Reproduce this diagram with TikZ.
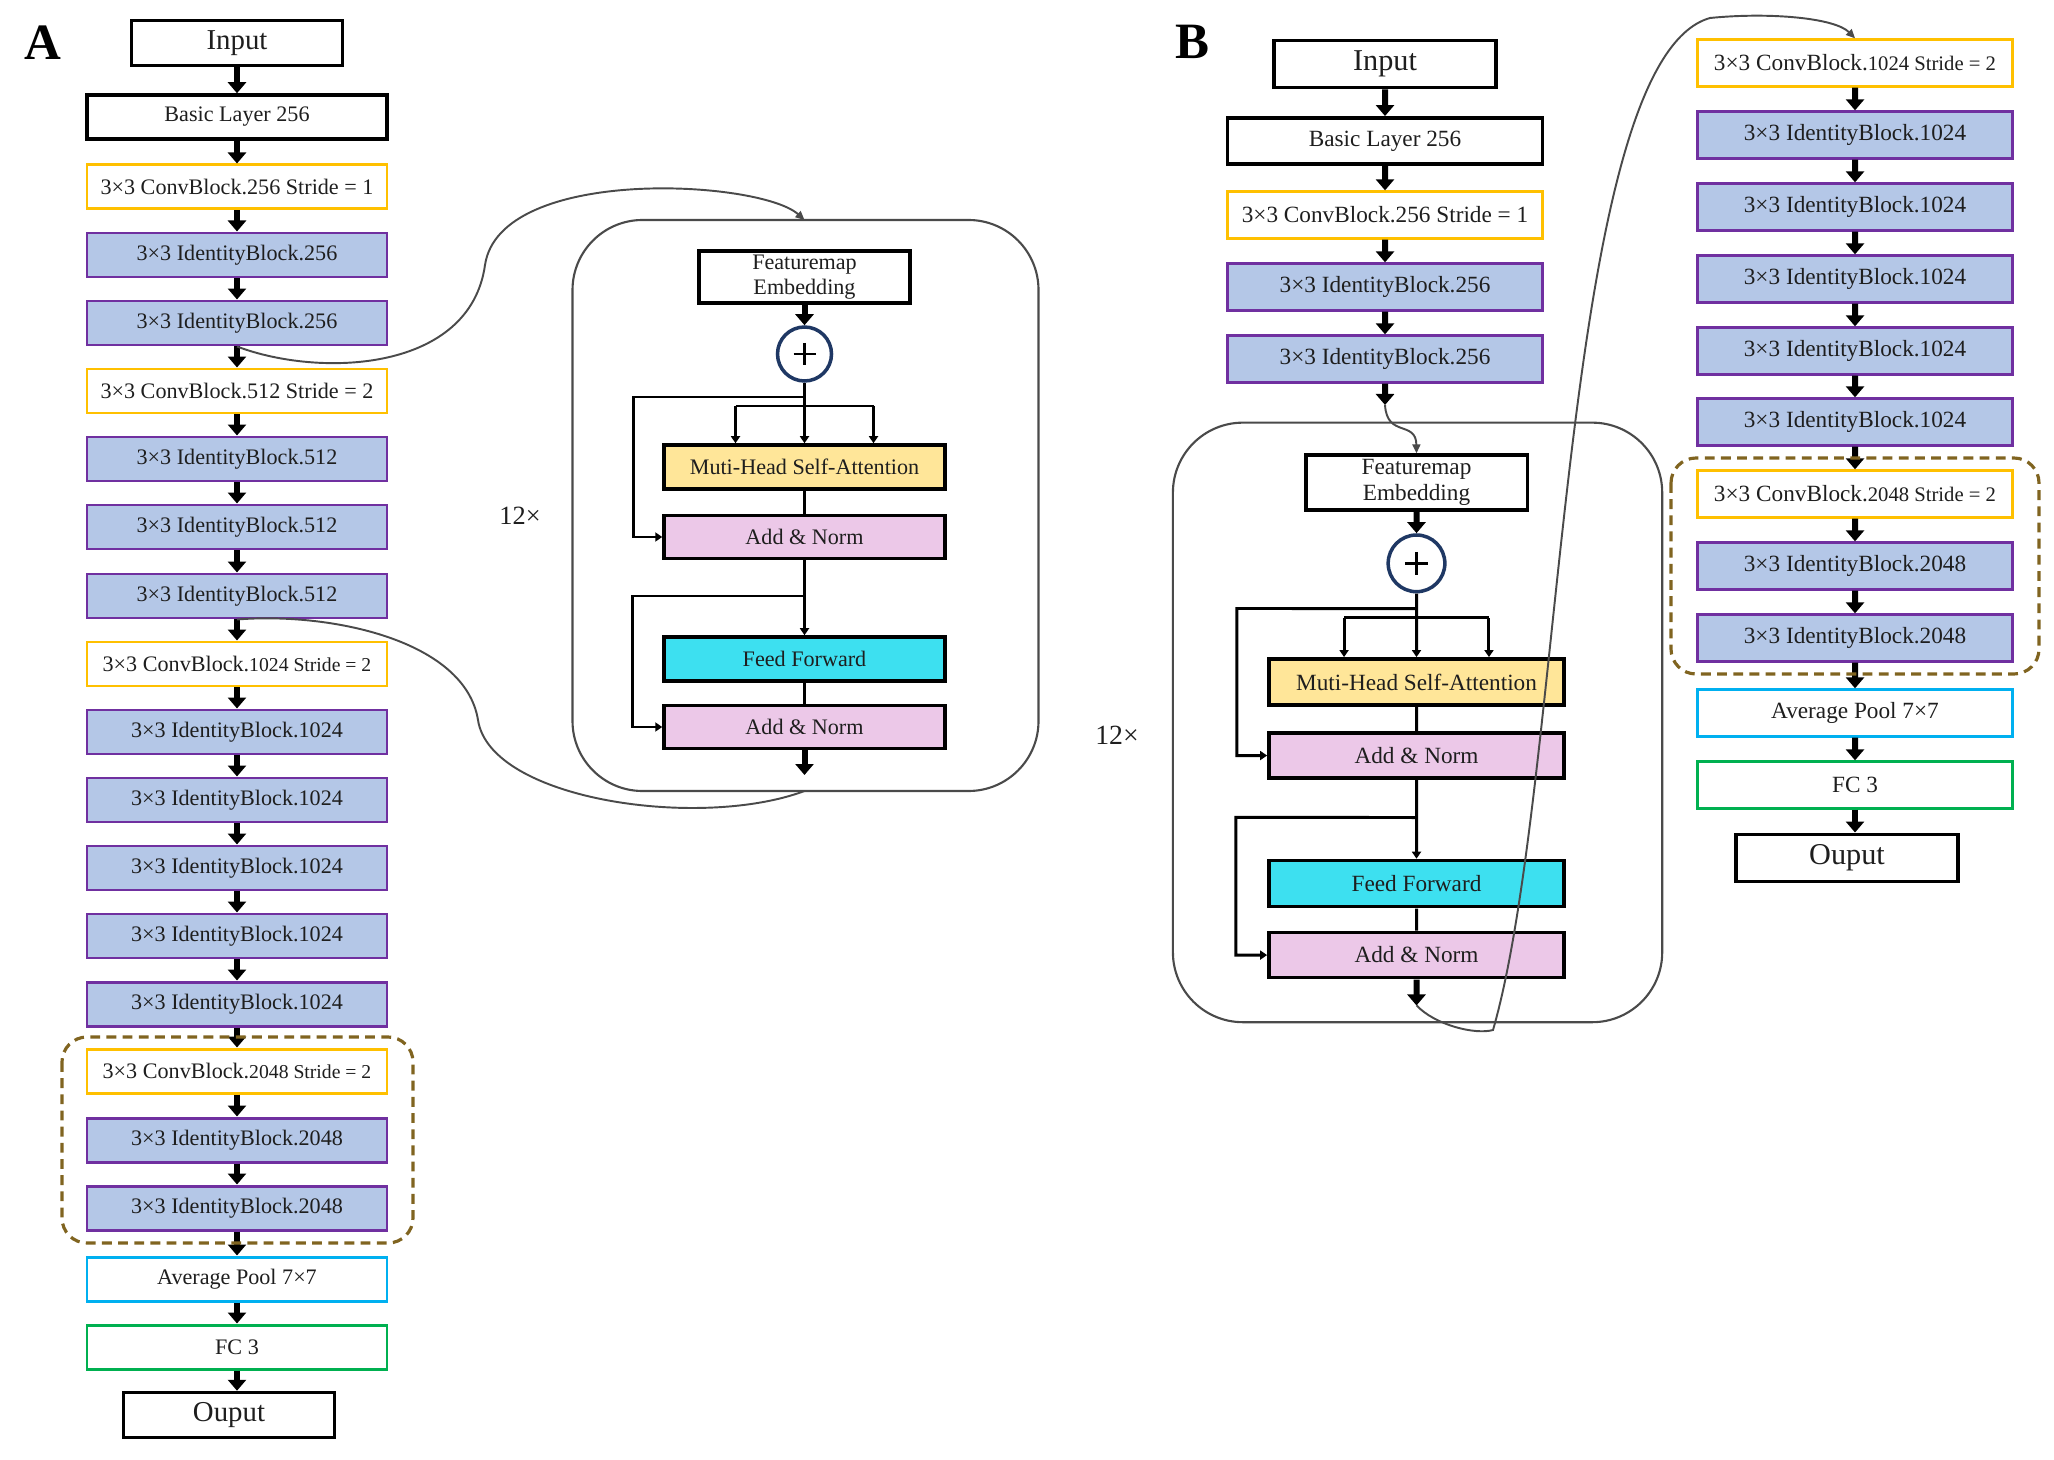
\documentclass[tikz,border=0pt]{standalone}
\usepackage{fontspec}
\setmainfont{Liberation Serif}
\usepackage{tikz}
\usetikzlibrary{arrows.meta}

\definecolor{ink}{HTML}{1E1E1E}
\definecolor{convc}{RGB}{255,192,0}
\definecolor{idfill}{RGB}{180,199,231}
\definecolor{idline}{RGB}{112,48,160}
\definecolor{poolc}{RGB}{0,176,240}
\definecolor{fcc}{RGB}{0,176,80}
\definecolor{dashc}{RGB}{128,100,32}
\definecolor{attnc}{RGB}{255,230,153}
\definecolor{normc}{RGB}{236,200,232}
\definecolor{ffc}{RGB}{61,224,240}
\definecolor{sumc}{RGB}{31,56,100}
\definecolor{loopc}{HTML}{4A4A4A}

\newcommand{\sm}{\fontsize{5.6}{6.5}\selectfont}

% one encoder layer: #1 prefix, (#2,#3) centre of the embedding box, #4 scale
\newcommand{\encoder}[4]{%
\begin{scope}[shift={(#2,#3)}, scale=#4, transform shape]
\draw[encbox] (-232,-57) rectangle (234,514);
\coordinate (#1top) at (0,-57);
\coordinate (#1bot) at (0,514);
\node[fmblk] (#1fm) at (0,0) {Featuremap\\Embedding};
\node[sumnode] (#1add) at (0,77) {};
\draw[wire] (#1add.center) ++(-11,0) -- ++(22,0);
\draw[wire] (#1add.center) ++(0,-11) -- ++(0,22);
\node[mhsa] (#1mha) at (0,190) {Muti-Head Self-Attention};
\node[addnorm] (#1an1) at (0,260) {Add \& Norm};
\node[ffn] (#1ff) at (0,382) {Feed Forward};
\node[addnorm] (#1an2) at (0,450) {Add \& Norm};
\coordinate (#1j1) at (0,120);
\coordinate (#1j2) at (0,319);
\coordinate (#1hl) at (-69,129);
\coordinate (#1hr) at (69,129);
\coordinate (#1end) at (0,498);
\draw[fatarrow] (#1fm) -- (#1add);
\draw[wire,smalltip] (#1add) -- (#1mha);
\draw[wire] (#1hl) -- (#1hr);
\draw[wire,smalltip] (#1hl) -- (#1hl |- #1mha.north);
\draw[wire,smalltip] (#1hr) -- (#1hr |- #1mha.north);
\draw[wire,smalltip] (#1j1) -- (-171,120) |- (#1an1.west);
\draw[wire] (#1mha) -- (#1an1);
\draw[wire,smalltip] (#1an1) -- (#1ff);
\draw[wire,smalltip] (#1j2) -- (-172,319) |- (#1an2.west);
\draw[wire] (#1ff) -- (#1an2);
\draw[fatarrow] (#1an2) -- (#1end);
\end{scope}}

\begin{document}
\begin{tikzpicture}[x=0.1mm, y=-0.1mm,
  blk/.style={draw, fill=white, inner sep=0pt, minimum width=30mm, minimum height=4.4mm, line width=0.85pt, text=ink, font=\fontsize{6.3}{7.5}\selectfont},
  plainblk/.style={blk, draw=black, line width=1pt},
  ioblk/.style={plainblk, minimum width=21.1mm, minimum height=4.5mm, font=\fontsize{8.2}{9}\selectfont},
  convblk/.style={blk, draw=convc},
  idblk/.style={blk, draw=idline, fill=idfill},
  poolblk/.style={blk, draw=poolc},
  fcblk/.style={blk, draw=fcc},
  fmblk/.style={plainblk, minimum width=21.1mm, minimum height=5.2mm, align=center, font=\fontsize{6.3}{7.1}\selectfont},
  mhsa/.style={plainblk, minimum width=28.1mm, fill=attnc},
  addnorm/.style={plainblk, minimum width=28.1mm, minimum height=4.3mm, fill=normc},
  ffn/.style={plainblk, minimum width=28.1mm, fill=ffc},
  sumnode/.style={circle, draw=sumc, fill=white, line width=1pt, minimum size=5.4mm, inner sep=0pt},
  fatarrow/.style={line width=1.7pt, -{Triangle[width=1.8mm,length=1.1mm]}},
  wire/.style={line width=0.85pt},
  smalltip/.style={-{Triangle[width=0.9mm,length=0.7mm]}},
  encbox/.style={draw=loopc, line width=0.6pt, rounded corners=7mm},
  dashbox/.style={draw=dashc, line width=0.9pt, dash pattern=on 2.8pt off 1.8pt, rounded corners=2.5mm},
  loopline/.style={draw=loopc, line width=0.55pt},
  panel/.style={font=\bfseries\fontsize{14.5}{15}\selectfont},
  repnote/.style={text=ink, font=\fontsize{7.5}{8}\selectfont}]

\useasboundingbox (0,0) rectangle (2054,1460);

% panel A
\node[panel] (labA) at (43,43) {A};
\node[ioblk] (inA) at (237,43) {Input};
\node[plainblk] (basA) at (237,117) {Basic Layer 256};
\node[convblk] (c256A) at (237,187) {3×3 ConvBlock.256 Stride = 1};
\node[idblk] (i256aA) at (237,255) {3×3 IdentityBlock.256};
\node[idblk] (i256bA) at (237,323) {3×3 IdentityBlock.256};
\node[convblk] (c512A) at (237,391) {3×3 ConvBlock.512 Stride = 2};
\node[idblk] (i512aA) at (237,459) {3×3 IdentityBlock.512};
\node[idblk] (i512bA) at (237,527) {3×3 IdentityBlock.512};
\node[idblk] (i512cA) at (237,596) {3×3 IdentityBlock.512};
\node[convblk] (c1024A) at (237,664) {3×3 ConvBlock.{\sm 1024 Stride = 2}};
\node[idblk] (i1024aA) at (237,732) {3×3 IdentityBlock.1024};
\node[idblk] (i1024bA) at (237,800) {3×3 IdentityBlock.1024};
\node[idblk] (i1024cA) at (237,868) {3×3 IdentityBlock.1024};
\node[idblk] (i1024dA) at (237,936) {3×3 IdentityBlock.1024};
\node[idblk] (i1024eA) at (237,1004) {3×3 IdentityBlock.1024};
\node[convblk] (c2048A) at (237,1071) {3×3 ConvBlock.{\sm 2048 Stride = 2}};
\node[idblk] (i2048aA) at (237,1140) {3×3 IdentityBlock.2048};
\node[idblk] (i2048bA) at (237,1208) {3×3 IdentityBlock.2048};
\node[poolblk] (poolA) at (237,1279) {Average Pool 7×7};
\node[fcblk] (fcA) at (237,1347) {FC 3};
\node[ioblk] (outA) at (229,1415) {Ouput};

\draw[fatarrow] (inA) -- (basA);
\draw[fatarrow] (basA) -- (c256A);
\draw[fatarrow] (c256A) -- (i256aA);
\draw[fatarrow] (i256aA) -- (i256bA);
\draw[fatarrow] (i256bA) -- (c512A);
\draw[fatarrow] (c512A) -- (i512aA);
\draw[fatarrow] (i512aA) -- (i512bA);
\draw[fatarrow] (i512bA) -- (i512cA);
\draw[fatarrow] (i512cA) -- (c1024A);
\draw[fatarrow] (c1024A) -- (i1024aA);
\draw[fatarrow] (i1024aA) -- (i1024bA);
\draw[fatarrow] (i1024bA) -- (i1024cA);
\draw[fatarrow] (i1024cA) -- (i1024dA);
\draw[fatarrow] (i1024dA) -- (i1024eA);
\draw[fatarrow] (i1024eA) -- (c2048A);
\draw[fatarrow] (c2048A) -- (i2048aA);
\draw[fatarrow] (i2048aA) -- (i2048bA);
\draw[fatarrow] (i2048bA) -- (poolA);
\draw[fatarrow] (poolA) -- (fcA);
\draw[fatarrow] (fcA.south) -- (fcA.south |- outA.north);

\draw[dashbox] (62,1037) rectangle (413,1243);

\encoder{a}{804.5}{277}{1}
\node[repnote] (repA) at (520,516) {12×};

\draw[loopline, -{Triangle[width=0.8mm,length=0.9mm]}] (i256bA.south) .. controls (320,378) and (470,372) .. (485,265) .. controls (500,165) and (760,180) .. (atop);
\draw[loopline] (i512cA.south) .. controls (330,612) and (465,640) .. (478,720) .. controls (490,800) and (700,830) .. (abot);

% panel B
\node[panel] (labB) at (1192,42) {B};
\begin{scope}[every node/.append style={scale=1.05}]
\node[ioblk] (inB) at (1385,64) {Input};
\node[plainblk] (basB) at (1385,141) {Basic Layer 256};
\node[convblk] (c256B) at (1385,215) {3×3 ConvBlock.256 Stride = 1};
\node[idblk] (i256aB) at (1385,287) {3×3 IdentityBlock.256};
\node[idblk] (i256bB) at (1385,359) {3×3 IdentityBlock.256};

\node[convblk] (c1024B) at (1855,63) {3×3 ConvBlock.{\sm 1024 Stride = 2}};
\node[idblk] (i1024aB) at (1855,135) {3×3 IdentityBlock.1024};
\node[idblk] (i1024bB) at (1855,207) {3×3 IdentityBlock.1024};
\node[idblk] (i1024cB) at (1855,279) {3×3 IdentityBlock.1024};
\node[idblk] (i1024dB) at (1855,351) {3×3 IdentityBlock.1024};
\node[idblk] (i1024eB) at (1855,422) {3×3 IdentityBlock.1024};
\node[convblk] (c2048B) at (1855,494) {3×3 ConvBlock.{\sm 2048 Stride = 2}};
\node[idblk] (i2048aB) at (1855,566) {3×3 IdentityBlock.2048};
\node[idblk] (i2048bB) at (1855,638) {3×3 IdentityBlock.2048};
\node[poolblk] (poolB) at (1855,713) {Average Pool 7×7};
\node[fcblk] (fcB) at (1855,785) {FC 3};
\node[ioblk] (outB) at (1847,858) {Ouput};
\end{scope}
\coordinate (bin) at (1385,405);

\draw[fatarrow] (inB) -- (basB);
\draw[fatarrow] (basB) -- (c256B);
\draw[fatarrow] (c256B) -- (i256aB);
\draw[fatarrow] (i256aB) -- (i256bB);
\draw[fatarrow] (i256bB) -- (bin);

\draw[fatarrow] (c1024B) -- (i1024aB);
\draw[fatarrow] (i1024aB) -- (i1024bB);
\draw[fatarrow] (i1024bB) -- (i1024cB);
\draw[fatarrow] (i1024cB) -- (i1024dB);
\draw[fatarrow] (i1024dB) -- (i1024eB);
\draw[fatarrow] (i1024eB) -- (c2048B);
\draw[fatarrow] (c2048B) -- (i2048aB);
\draw[fatarrow] (i2048aB) -- (i2048bB);
\draw[fatarrow] (i2048bB) -- (poolB);
\draw[fatarrow] (poolB) -- (fcB);
\draw[fatarrow] (fcB.south) -- (fcB.south |- outB.north);

\draw[dashbox] (1671,458) rectangle (2039,674);

\encoder{b}{1416.5}{482.5}{1.05}
\node[repnote, font=\fontsize{7.9}{8.5}\selectfont] (repB) at (1117,735) {12×};

\draw[loopline, -{Triangle[width=0.8mm,length=0.9mm]}] (bin) .. controls (1387,438) and (1416,420) .. (bfm.north);
\draw[loopline, -{Triangle[width=0.8mm,length=0.9mm]}] (bend) .. controls (1435,1025) and (1475,1035) .. (1493,1030) .. controls (1565,780) and (1560,60) .. (1710,18) .. controls (1770,12) and (1835,18) .. (c1024B.north);
\end{tikzpicture}
\end{document}
